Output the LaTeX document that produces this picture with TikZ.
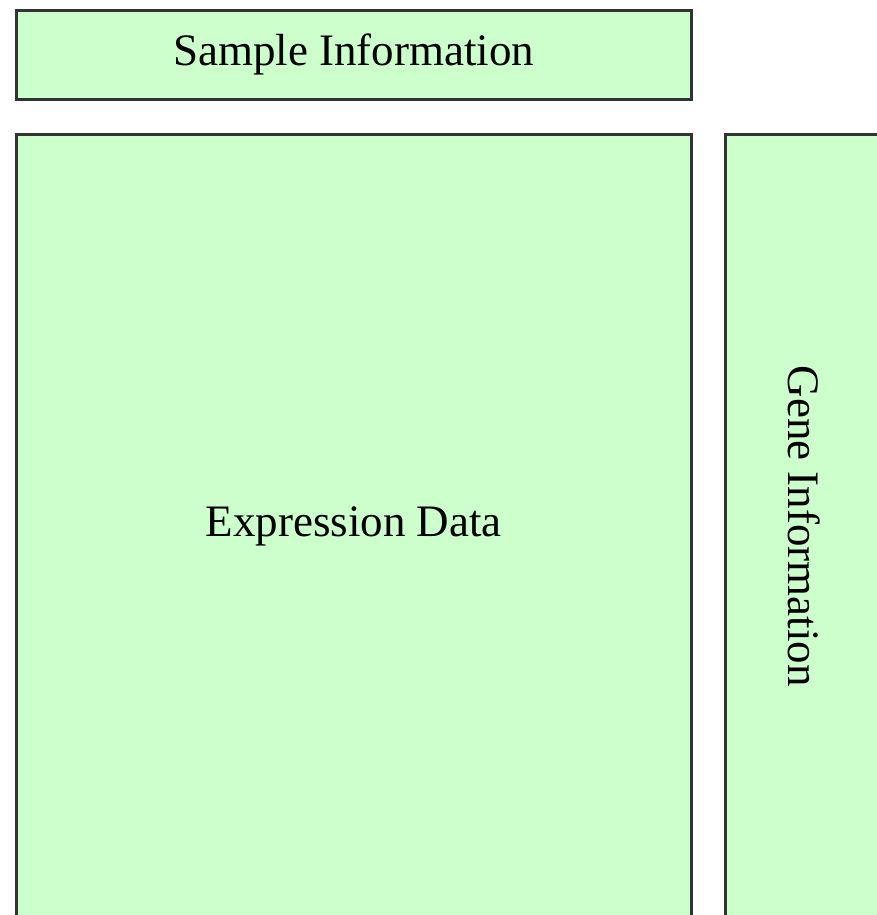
\documentclass[tikz,border=0pt]{standalone}
\usepackage{fontspec}
\setmainfont{Liberation Serif}
\definecolor{panelgreen}{HTML}{CCFFCC}

\begin{document}
\begin{tikzpicture}[x=1pt, y=-1pt,
        panel/.style={draw=black!80, fill=panelgreen, line width=2.6pt, inner sep=0pt,
            anchor=north west, font=\fontsize{45}{54}\selectfont}]
        % Fix the page and cut the panels that run off it
        \useasboundingbox (0,0) rectangle (877,915);
        \clip (0,0) rectangle (877,915);

        % The three panels
        \node[panel, minimum width=675pt, minimum height=89pt] (sample) at (15,9) {Sample Information};
        \node[panel, minimum width=675pt, minimum height=784pt] (expr) at (15,133) {Expression Data};
        \node[panel, minimum width=158pt, minimum height=784pt] (gene) at (724,133) {};
        \node[rotate=-90, font=\fontsize{45}{54}\selectfont] (genelabel) at (gene.center) {Gene Information};
    \end{tikzpicture}
\end{document}
